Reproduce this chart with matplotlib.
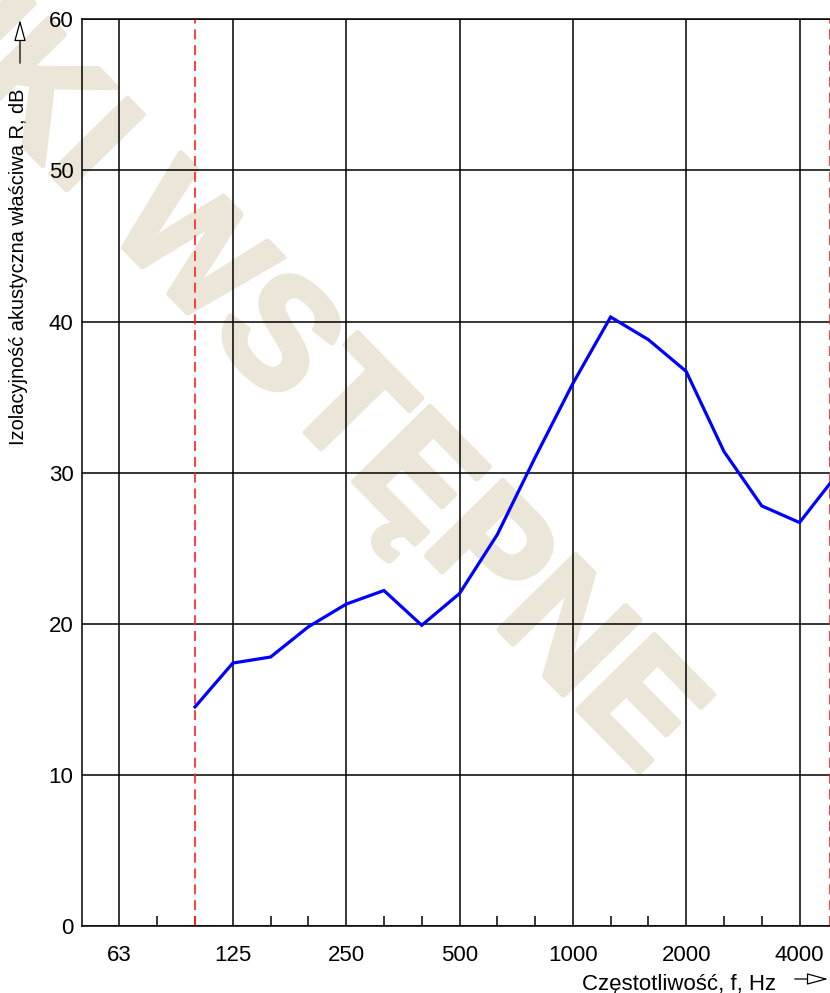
import matplotlib.pyplot as plt
import numpy as np
import matplotlib.patheffects as pe
from matplotlib.patches import FancyArrowPatch

plt.rcParams['font.family'] = ['Liberation Sans', 'DejaVu Sans']

# third-octave bands shown on the axis (50 Hz .. 5000 Hz)
bands = ["50", "63", "80", "100", "125", "160", "200", "250", "315", "400", "500",
         "630", "800", "1000", "1250", "1600", "2000", "2500", "3150", "4000", "5000"]
labelled = ["63", "125", "250", "500", "1000", "2000", "4000"]

# measured sound reduction index R, dB (100 Hz .. 5000 Hz)
freqs = ["100", "125", "160", "200", "250", "315", "400", "500", "630", "800",
         "1000", "1250", "1600", "2000", "2500", "3150", "4000", "5000"]
R = [14.5, 17.4, 17.8, 19.8, 21.3, 22.2, 19.9, 22.0, 25.9, 31.0,
     35.9, 40.3, 38.8, 36.7, 31.4, 27.8, 26.7, 29.9]

# red dashed evaluation-range limits (band position)
limits = [3.0, 19.8]

pos = {b: i for i, b in enumerate(bands)}
x = [pos[f] for f in freqs]

fig = plt.figure(figsize=(8.3, 9.93), dpi=100)
ax = fig.add_axes([81.7 / 830, 1 - 926 / 993, 20 * 37.78 / 830, (926 - 19.3) / 993])
ax.patch.set_visible(False)

# watermark (heavy letters, thickened with a stroke of the same colour)
wm = "#ebe6d7"
ax.text(643 / 830, 1 - 776 / 993, "WYNIKI WSTĘPNE", transform=fig.transFigure,
        fontsize=112, fontweight="bold", color=wm,
        rotation=-45.5, rotation_mode="anchor", ha="right", va="baseline",
        zorder=0, clip_on=False,
        path_effects=[pe.withStroke(linewidth=4, foreground=wm)])

ax.plot(x, R, color="#0000ff", lw=2.3, zorder=3, solid_joinstyle="miter")
for lx in limits:
    ax.axvline(lx, color="#ff2020", lw=1.2, ls=(0, (6, 3.5)), zorder=2.5)

ax.set_xlim(0, 20)
ax.set_ylim(0, 60)
major = [pos[b] for b in labelled]
ax.set_xticks(major)
ax.set_xticklabels(labelled)
ax.set_xticks([i for i in range(1, 20) if i not in major], minor=True)
ax.set_yticks(np.arange(0, 61, 10))

ax.grid(True, which="major", color="black", lw=1.1)
ax.tick_params(which="major", length=0, labelsize=16, pad=6)
ax.tick_params(axis="x", which="major", pad=14)
ax.tick_params(which="minor", direction="in", length=7.2, width=1.1, color="black")
for s in ax.spines.values():
    s.set_linewidth(1.1)

fig.text(19 / 830, 1 - 267 / 993, "Izolacyjność akustyczna właściwa R, dB",
         rotation=90, ha="center", va="center", fontsize=14.4)
fig.text(776 / 830, 1 - 990 / 993, "Częstotliwość, f, Hz", ha="right",
         va="baseline", fontsize=16)

arrow_kw = dict(arrowstyle="-|>,head_length=1.1,head_width=0.3", mutation_scale=12,
                fc="white", ec="black", lw=0.9, transform=fig.transFigure)
fig.patches.append(FancyArrowPatch((20 / 830, 1 - 66 / 993), (20 / 830, 1 - 17 / 993), **arrow_kw))
fig.patches.append(FancyArrowPatch((792 / 830, 1 - 979 / 993), (831 / 830, 1 - 979 / 993), **arrow_kw))

fig.savefig("out.png", dpi=100)
